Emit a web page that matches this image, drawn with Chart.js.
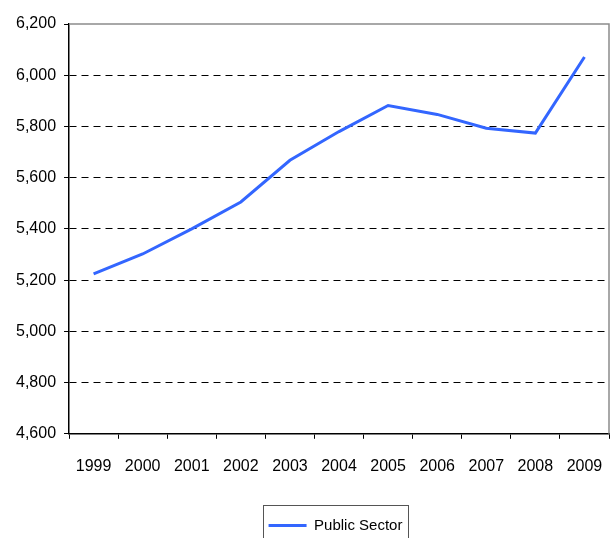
<!DOCTYPE html>
<html>
<head>
<meta charset="utf-8">
<script src="https://cdn.jsdelivr.net/npm/chart.js@4/dist/chart.umd.min.js"></script>
<style>
  html, body { margin: 0; padding: 0; background: #fff; }
  #wrap { width: 610px; height: 538px; }
</style>
</head>
<body>
<div id="wrap"><canvas id="line-chart"></canvas></div>
<script>
// data
const YEARS = ['1999', '2000', '2001', '2002', '2003', '2004', '2005', '2006', '2007', '2008', '2009'];
const PUBLIC_SECTOR = [5224, 5302, 5400, 5505, 5668, 5780, 5882, 5847, 5793, 5774, 6071];
const Y_MIN = 4600;
const Y_MAX = 6200;
const Y_STEP = 200;

const FONT = "'Liberation Sans', Arial, sans-serif";

// gray frame on top/right of plot area, box round the legend
const framePlugin = {
  id: 'frame',
  afterLayout(chart) {
    // push legend a bit right and down like the original
    const lg = chart.legend;
    lg.left += 27; lg.right += 27;
    lg.top += 14; lg.bottom += 14;
  },
  afterDraw(chart) {
    const c = chart.ctx;
    const a = chart.chartArea;
    c.save();
    c.strokeStyle = '#8c8c8c';
    c.lineWidth = 1.5;
    c.beginPath();
    c.moveTo(a.left, a.top);
    c.lineTo(a.right, a.top);
    c.lineTo(a.right, a.bottom);
    c.stroke();

    const box = chart.legend.legendHitBoxes[0];
    if (box) {
      const mid = box.top + box.height / 2;
      c.strokeStyle = '#555';
      c.lineWidth = 1;
      c.strokeRect(Math.round(box.left - 6) + 0.5, Math.round(mid - 21) + 0.5, Math.round(box.width + 11), 60);
    }
    c.restore();
  }
};

function renderChart() {
  const ctx = document.getElementById('line-chart');

  new Chart(ctx, {
    type: 'line',
    data: {
      labels: YEARS,
      datasets: [{
        label: 'Public Sector',
        data: PUBLIC_SECTOR,
        borderColor: '#3366ff',
        backgroundColor: '#3366ff',
        borderWidth: 3,
        pointRadius: 0,
        tension: 0
      }]
    },
    options: {
      responsive: true,
      maintainAspectRatio: false,
      animation: false,
      layout: { padding: { left: 8, right: 1, top: 24, bottom: 9 } },
      plugins: {
        tooltip: { enabled: false },
        legend: {
          position: 'bottom',
          labels: {
            color: '#000',
            font: { family: FONT, size: 15 },
            usePointStyle: true,
            pointStyle: 'line',
            pointStyleWidth: 38,
            padding: 10
          }
        }
      },
      scales: {
        x: {
          offset: true,
          afterFit(scale) {
            // no extra side padding from the tick labels
            scale.paddingLeft = 0;
            scale.paddingRight = 0;
          },
          grid: {
            offset: true,
            drawOnChartArea: false,
            tickLength: 5,
            tickColor: '#000'
          },
          border: { color: '#000', width: 1.5 },
          ticks: {
            color: '#000',
            padding: 18,
            maxRotation: 0,
            font: { family: FONT, size: 16 }
          }
        },
        y: {
          min: Y_MIN,
          max: Y_MAX,
          grid: {
            color: c => (c.tick && (c.tick.value === Y_MAX || c.tick.value === Y_MIN)) ? 'transparent' : '#000',
            lineWidth: 1,
            tickLength: 5,
            tickColor: '#000'
          },
          border: { color: '#000', width: 1.5, dash: [7, 5] },
          ticks: {
            stepSize: Y_STEP,
            color: '#000',
            padding: 8,
            font: { family: FONT, size: 16 },
            callback: v => v.toLocaleString('en-US')
          }
        }
      }
    },
    plugins: [framePlugin]
  });
}

renderChart();
</script>
</body>
</html>
